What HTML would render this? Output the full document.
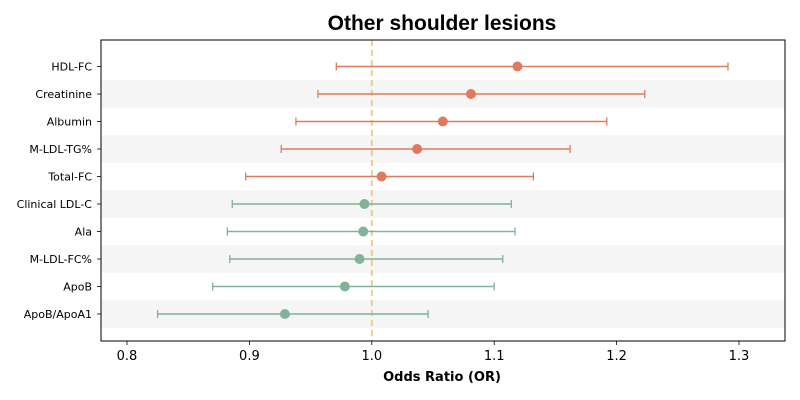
<!DOCTYPE html>
<html><head><meta charset="utf-8"><style>
body{margin:0;background:#fff}
svg{display:block;font-family:"DejaVu Sans","Liberation Sans",sans-serif}
</style></head><body>
<svg id="chart" width="800" height="400">
<text x="442" y="30" text-anchor="middle" font-size="21" font-weight="bold" fill="#000" style="font-family:'Liberation Sans',Arial,sans-serif">Other shoulder lesions</text>
<text x="442" y="381" text-anchor="middle" font-size="13" font-weight="bold" fill="#000">Odds Ratio (OR)</text>
<g id="bands"></g><g id="marks"></g><g id="axes"></g>
</svg>
<script>
const labels=["HDL-FC","Creatinine","Albumin","M-LDL-TG%","Total-FC","Clinical LDL-C","Ala","M-LDL-FC%","ApoB","ApoB/ApoA1"];
const orValues=[1.119,1.081,1.058,1.037,1.008,0.994,0.993,0.990,0.978,0.929];
const lowerCI=[0.971,0.956,0.938,0.926,0.897,0.886,0.882,0.884,0.870,0.825];
const upperCI=[1.291,1.223,1.192,1.162,1.132,1.114,1.117,1.107,1.100,1.046];
const xTicks=[0.8,0.9,1.0,1.1,1.2,1.3];
const L=101,R=785,T=40,B=341;
const xs=v=>127+(v-0.8)*1224;
const ys=i=>66.5+27.5*i;
const NS="http://www.w3.org/2000/svg";
function mk(p,tag,a){const e=document.createElementNS(NS,tag);for(const k in a)e.setAttribute(k,a[k]);p.appendChild(e);return e;}
const bands=document.getElementById('bands'),marks=document.getElementById('marks'),axes=document.getElementById('axes');
labels.forEach((lab,i)=>{
 if(i%2===1){const b=mk(bands,'rect',{x:L,y:ys(i)-13.75,width:R-L,height:27.5,fill:'#f5f5f5'});
 
 }
});
const dl=mk(marks,'line',{x1:xs(1),x2:xs(1),y1:T,y2:B,stroke:'#f2cc8f','stroke-width':2,'stroke-dasharray':'6,4'});


labels.forEach((lab,i)=>{
 const c=orValues[i]>1?'#e07a5f':'#81b29a';const y=ys(i);
 const g=mk(marks,'g',{});
 
 
 mk(g,'line',{x1:xs(lowerCI[i]),x2:xs(upperCI[i]),y1:y,y2:y,stroke:c,'stroke-width':1.6});
 mk(g,'line',{x1:xs(lowerCI[i]),x2:xs(lowerCI[i]),y1:y-4,y2:y+4,stroke:c,'stroke-width':1.3});
 mk(g,'line',{x1:xs(upperCI[i]),x2:xs(upperCI[i]),y1:y-4,y2:y+4,stroke:c,'stroke-width':1.3});
 mk(g,'circle',{cx:xs(orValues[i]),cy:y,r:5,fill:c});
 const t=mk(axes,'text',{x:L-9,y:y+4,'text-anchor':'end','font-size':11,fill:'#000'});t.textContent=lab;
 
 
 mk(axes,'line',{x1:L-4,x2:L,y1:y,y2:y,stroke:'#000','stroke-width':0.8});
});
const fr=mk(axes,'rect',{x:L,y:T,width:R-L,height:B-T,fill:'none',stroke:'#000','stroke-width':1});


xTicks.forEach(v=>{
 mk(axes,'line',{x1:xs(v),x2:xs(v),y1:B,y2:B+4,stroke:'#000','stroke-width':0.8});
 const t=mk(axes,'text',{x:xs(v),y:B+19,'text-anchor':'middle','font-size':13,fill:'#000'});t.textContent=v.toFixed(1);
 
 
});
</script>
</body></html>
